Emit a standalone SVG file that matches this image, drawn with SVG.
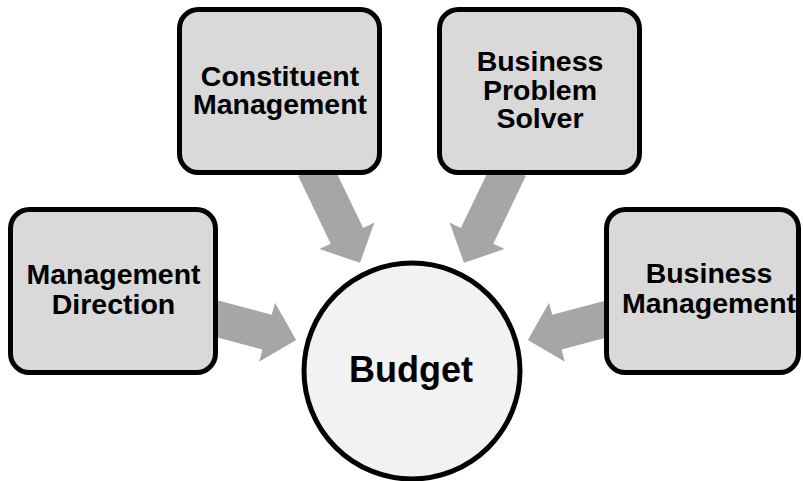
<svg xmlns="http://www.w3.org/2000/svg" width="803" height="481" viewBox="0 0 803 481">
  <style>
    .box { fill: #d9d9d9; stroke: #000000; stroke-width: 5; }
    .hub { fill: #f2f2f2; stroke: #000000; stroke-width: 5; }
    .arrow { fill: #a6a6a6; stroke: none; }
    .label { font-family: "Liberation Sans", Arial, sans-serif; font-weight: bold; font-size: 28.5px; fill: #000000; text-anchor: middle; }
    .hub-label { font-family: "Liberation Sans", Arial, sans-serif; font-weight: bold; font-size: 36px; fill: #000000; text-anchor: middle; }
  </style>
  <defs>
    <!-- block arrow pointing along +x, tip 120 units before the origin (hub centre) -->
    <polygon id="block-arrow" points="-120,0 -150,-30.5 -150,-18 -225,-18 -225,18 -150,18 -150,30.5"/>
  </defs>

  <rect width="803" height="481" fill="#ffffff"/>

  <!-- connectors: drawn first so the boxes cover their tails -->
  <g id="connectors">
    <use href="#block-arrow" class="arrow" transform="translate(412 371) rotate(64.3)"/>
    <use href="#block-arrow" class="arrow" transform="translate(412 371) rotate(115.7)"/>
    <use href="#block-arrow" class="arrow" transform="translate(412 371) rotate(15)"/>
    <use href="#block-arrow" class="arrow" transform="translate(412 371) rotate(165)"/>
  </g>

  <g id="constituent-management">
    <rect class="box" x="179.5" y="9.5" width="200" height="163" rx="19"/>
    <text class="label" x="280" y="86">Constituent</text>
    <text class="label" x="280" y="114">Management</text>
  </g>

  <g id="business-problem-solver">
    <rect class="box" x="439.5" y="9.5" width="200" height="163" rx="19"/>
    <text class="label" x="540" y="71">Business</text>
    <text class="label" x="540" y="99.5">Problem</text>
    <text class="label" x="540" y="128">Solver</text>
  </g>

  <g id="management-direction">
    <rect class="box" x="10.5" y="209.5" width="205" height="163" rx="19"/>
    <text class="label" x="113.5" y="284">Management</text>
    <text class="label" x="113.5" y="314">Direction</text>
  </g>

  <g id="business-management">
    <rect class="box" x="606.5" y="209.5" width="192" height="163" rx="19"/>
    <text class="label" x="709" y="283">Business</text>
    <text class="label" x="709" y="313">Management</text>
  </g>

  <g id="budget">
    <circle class="hub" cx="412" cy="371" r="108"/>
    <text class="hub-label" x="411" y="382">Budget</text>
  </g>
</svg>
